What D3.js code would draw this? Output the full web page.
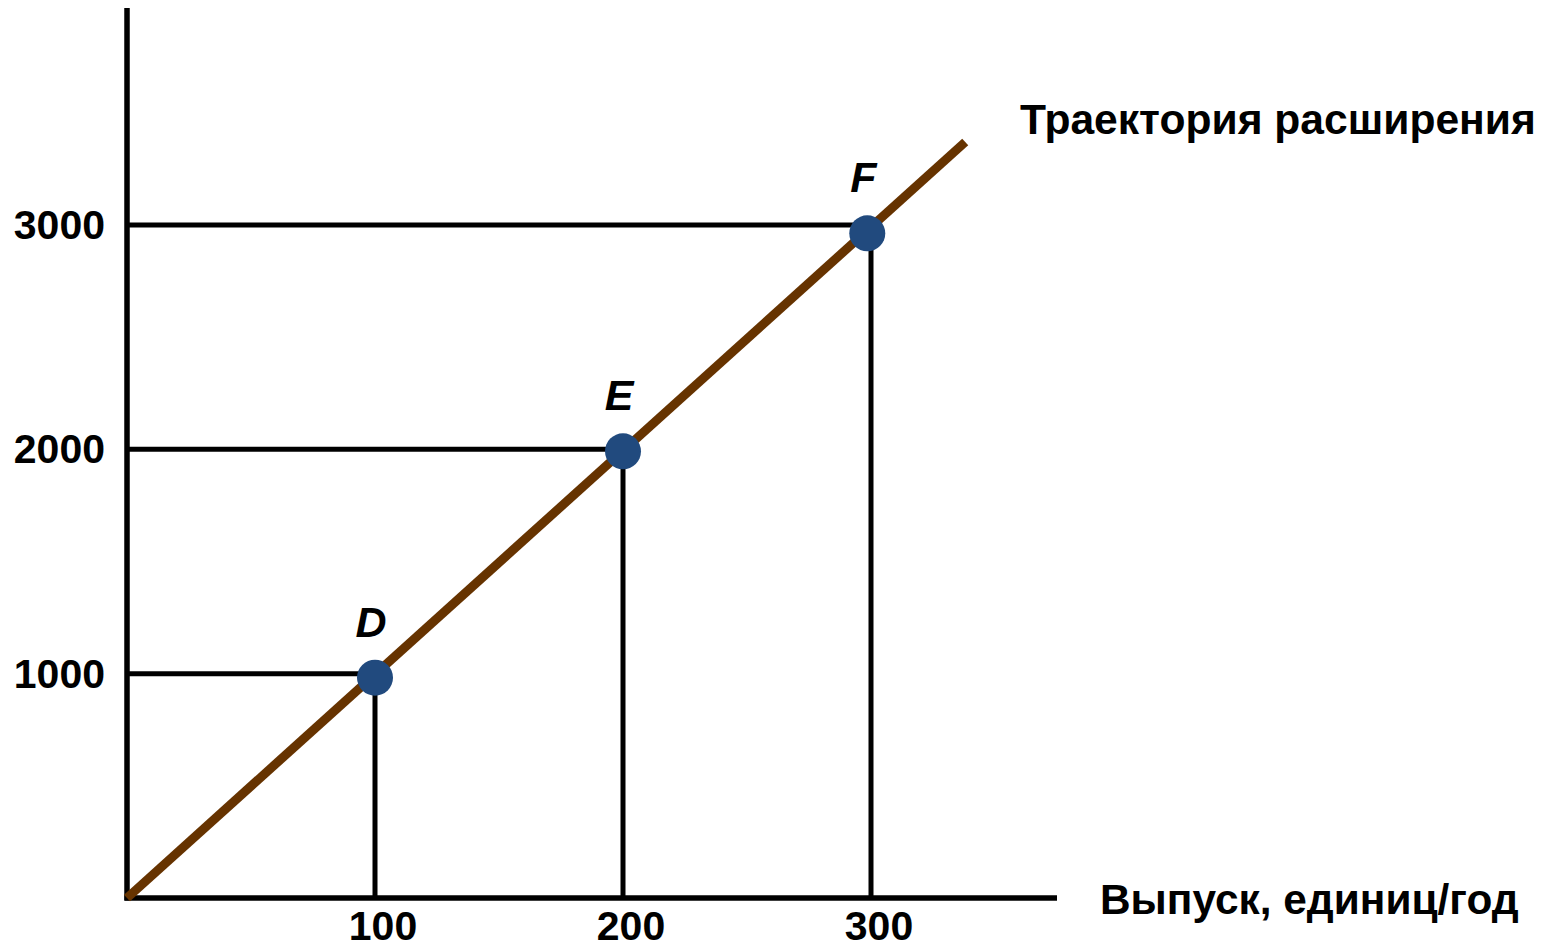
<!DOCTYPE html>
<html>
<head>
<meta charset="utf-8">
<script src="https://cdn.jsdelivr.net/npm/d3@7"></script>
<style>
  html, body { margin: 0; padding: 0; background: #fff; }
  svg { display: block; }
  text { font-family: "Liberation Sans", Arial, sans-serif; font-weight: bold; fill: #000; }
</style>
</head>
<body>
<svg id="chart" width="1547" height="945"></svg>
<script>
// ---- data ----
const xTicks = [100, 200, 300];
const yTicks = [1000, 2000, 3000];
const pointNames = ["D", "E", "F"];
const pointX = [100, 200, 298.5];
const pointY = [982, 1991, 2963];
const pathX = [0, 338];
const pathY = [0, 3370];
const pathLabel = "Траектория расширения";
const xAxisLabel = "Выпуск, единиц/год";

// ---- layout ----
const svg = d3.select("#chart");
const x = d3.scaleLinear().domain([0, 300]).range([127, 871]);
const y = d3.scaleLinear().domain([0, 3000]).range([898, 225]);
const xEnd = 1057, yTop = 8;

// guide lines
const g = svg.append("g");
xTicks.forEach((v, i) => {
  g.append("line")
    .attr("x1", x(0)).attr("x2", x(v))
    .attr("y1", y(yTicks[i])).attr("y2", y(yTicks[i]))
    .attr("stroke", "#000").attr("stroke-width", 5);
  g.append("line")
    .attr("x1", x(v)).attr("x2", x(v))
    .attr("y1", y(pointY[i])).attr("y2", y(0))
    .attr("stroke", "#000").attr("stroke-width", 5);
});

// axes
svg.append("line").attr("x1", x(0)).attr("x2", x(0)).attr("y1", yTop).attr("y2", y(0) + 2.5)
  .attr("stroke", "#000").attr("stroke-width", 5.5);
svg.append("line").attr("x1", x(0) - 2.5).attr("x2", xEnd).attr("y1", y(0)).attr("y2", y(0))
  .attr("stroke", "#000").attr("stroke-width", 5.5);

// expansion path
const line = d3.line().x(d => x(d[0])).y(d => y(d[1]));
svg.append("path")
  .datum(pathX.map((v, i) => [v, pathY[i]]))
  .attr("d", line)
  .attr("fill", "none")
  .attr("stroke", "#663300")
  .attr("stroke-width", 9);

// points
svg.selectAll("circle.pt").data(pointNames).join("circle")
  .attr("class", "pt")
  .attr("cx", (d, i) => x(pointX[i]))
  .attr("cy", (d, i) => y(pointY[i]))
  .attr("r", 18)
  .attr("fill", "#214a7e");

svg.selectAll("text.pl").data(pointNames).join("text")
  .attr("class", "pl")
  .attr("x", (d, i) => x(pointX[i]) - 4)
  .attr("y", (d, i) => y(pointY[i]) - 41)
  .attr("text-anchor", "middle")
  .attr("font-style", "italic")
  .attr("font-size", 43)
  .text(d => d);

// tick labels
svg.selectAll("text.xt").data(xTicks).join("text")
  .attr("class", "xt")
  .attr("x", d => x(d) + 8)
  .attr("y", 940)
  .attr("text-anchor", "middle")
  .attr("font-size", 41)
  .text(d => d);

svg.selectAll("text.yt").data(yTicks).join("text")
  .attr("class", "yt")
  .attr("x", 105)
  .attr("y", d => y(d) + 14)
  .attr("text-anchor", "end")
  .attr("font-size", 41)
  .text(d => d);

// labels
svg.append("text").attr("x", 1020).attr("y", 134).attr("font-size", 42.6).text(pathLabel);
svg.append("text").attr("x", 1100).attr("y", 914).attr("font-size", 42.4).text(xAxisLabel);
</script>
</body>
</html>
